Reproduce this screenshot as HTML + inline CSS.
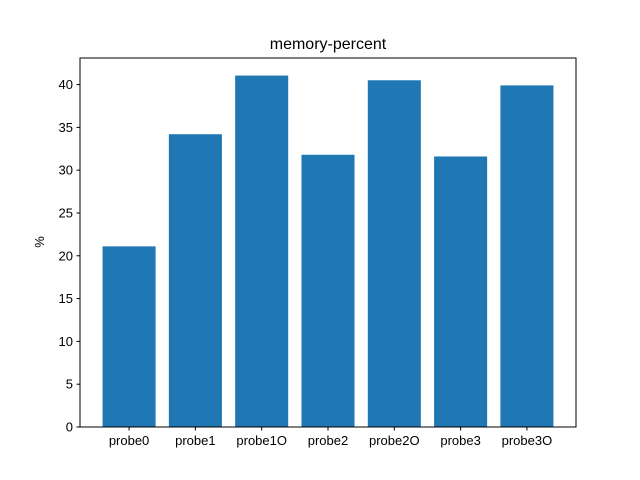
<!DOCTYPE html>
<html><head><meta charset="utf-8"><style>body{margin:0;background:#fff}svg{display:block;font-family:"Liberation Sans",sans-serif}</style></head>
<body>
<svg id="chart" width="640" height="480">
<rect width="640" height="480" fill="#fff"/>
<text x="328" y="49" font-size="16" text-anchor="middle">memory-percent</text>
<g id="bars"></g><g id="xt"></g><g id="yt"></g>
<rect x="80" y="58" width="496" height="369" fill="none" stroke="#000" stroke-width="1"/>
<text transform="translate(44,242) rotate(-90)" font-size="13" text-anchor="middle">%</text>
</svg>
<script>
const categories=["probe0","probe1","probe1O","probe2","probe2O","probe3","probe3O"];
const values=[21.1,34.2,41.05,31.8,40.5,31.6,39.9];
const yTicks=[0,5,10,15,20,25,30,35,40];
const NS="http://www.w3.org/2000/svg";
const L=80,R=576,T=58,B=427;
const n=categories.length;
const xmin=-0.4-0.05*(n-0.2),xmax=n-1+0.4+0.05*(n-0.2);
const ymax=Math.max(...values)*1.05;
const xs=v=>L+(v-xmin)/(xmax-xmin)*(R-L);
const ys=v=>B-v/ymax*(B-T);
function mk(t,a,p){const e=document.createElementNS(NS,t);for(const k in a)e.setAttribute(k,a[k]);p.appendChild(e);return e;}
const gb=document.getElementById('bars'),gx=document.getElementById('xt'),gy=document.getElementById('yt');
values.forEach((v,i)=>{
 const r=mk('rect',{x:xs(i-0.4),y:ys(v),width:xs(i+0.4)-xs(i-0.4),height:ys(0)-ys(v),fill:'#1f77b4'},gb);
 
 
 const tk=mk('line',{x1:xs(i),x2:xs(i),y1:B,y2:B+3.5,stroke:'#000'},gx);
 
 
 const t=mk('text',{x:xs(i),y:B+18,'font-size':13,'text-anchor':'middle'},gx);
 t.textContent=categories[i];
 
 
});
yTicks.forEach(v=>{
 const tk=mk('line',{x1:L-3.5,x2:L,y1:ys(v),y2:ys(v),stroke:'#000'},gy);
 
 
 const t=mk('text',{x:L-7,y:ys(v)+4.5,'font-size':13,'text-anchor':'end'},gy);
 t.textContent=v;
 
 
});
</script>
</body></html>
